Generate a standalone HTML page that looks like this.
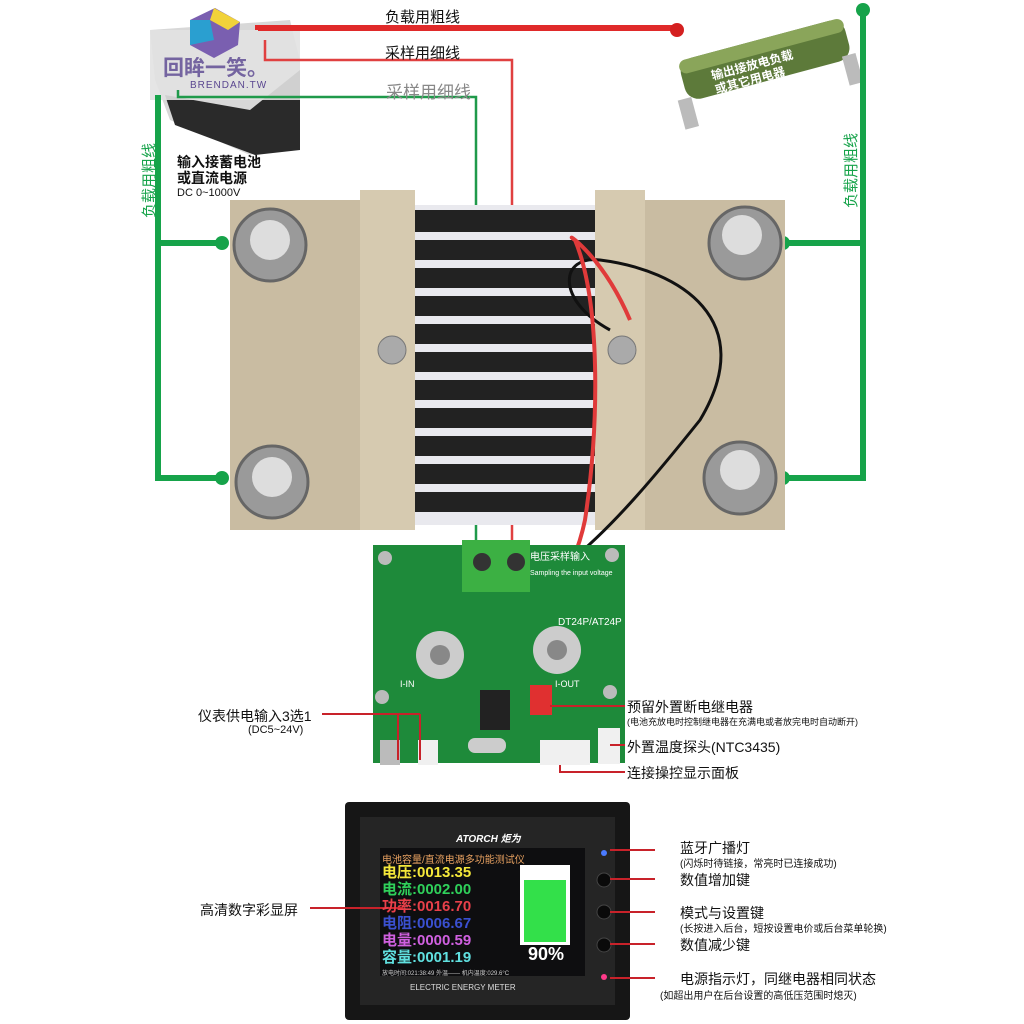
<!DOCTYPE html>
<html><head><meta charset="utf-8"><style>
body{margin:0;width:1024px;height:1024px;background:#fff;position:relative;overflow:hidden;font-family:"Liberation Sans","Noto Sans CJK SC",sans-serif}
.t{position:absolute;white-space:nowrap;color:#111}
.v{writing-mode:vertical-rl;text-orientation:sideways;transform:rotate(180deg)}
</style></head><body>
<svg width="1024" height="1024" style="position:absolute;left:0;top:0">
<g>
<polygon points="150,30 290,20 300,60 300,140 250,155 170,120 155,80" fill="#d8d8d8"/>
<polygon points="165,95 250,110 300,70 300,150 255,155 175,125" fill="#2a2a2a"/>
<rect x="150" y="30" width="150" height="70" fill="#e2e2e2" opacity=".9"/>
<polygon points="190,20 215,8 240,22 238,45 214,58 190,45" fill="#7a5fb0"/>
<polygon points="214,8 240,22 228,30 210,20" fill="#f1d23a"/>
<polygon points="190,20 210,20 214,40 190,45" fill="#2a9fd0"/>
</g>
<g transform="rotate(-15 760 60)">
<rect x="680" y="40" width="170" height="42" rx="14" fill="#5d7a3a"/>
<rect x="680" y="40" width="170" height="14" rx="7" fill="#8aa55a"/>
<rect x="670" y="78" width="14" height="30" fill="#bbb"/><rect x="840" y="78" width="14" height="30" fill="#bbb"/>
</g>
<polyline points="258,30 258,28 677,28" fill="none" stroke="#e02a2a" stroke-width="6"/>
<circle cx="677" cy="30" r="7" fill="#d42020"/>
<polyline points="265,40 265,60 512,60 512,560" fill="none" stroke="#e04040" stroke-width="2.5"/>
<polyline points="178,90 178,97 476,97 476,560" fill="none" stroke="#1f9a4a" stroke-width="2.5"/>
<polyline points="158,95 158,478 222,478" fill="none" stroke="#16a34a" stroke-width="6"/>
<line x1="158" y1="243" x2="222" y2="243" stroke="#16a34a" stroke-width="6"/>
<polyline points="863,10 863,478 783,478" fill="none" stroke="#16a34a" stroke-width="6"/>
<line x1="783" y1="243" x2="863" y2="243" stroke="#16a34a" stroke-width="6"/>
<g fill="#16a34a"><circle cx="863" cy="10" r="7"/><circle cx="222" cy="243" r="7"/><circle cx="222" cy="478" r="7"/><circle cx="783" cy="243" r="7"/><circle cx="783" cy="478" r="7"/></g>
<rect x="230" y="200" width="180" height="330" fill="#c9bca2"/>
<rect x="600" y="200" width="185" height="330" fill="#c9bca2"/>
<rect x="360" y="190" width="55" height="340" fill="#d6cab0"/>
<rect x="595" y="190" width="50" height="340" fill="#d6cab0"/>
<rect x="415" y="205" width="180" height="320" fill="#e9e9ee"/>
<g fill="#222">
<rect x="415" y="210" width="180" height="22"/><rect x="415" y="240" width="180" height="20"/><rect x="415" y="268" width="180" height="20"/><rect x="415" y="296" width="180" height="20"/><rect x="415" y="324" width="180" height="20"/><rect x="415" y="352" width="180" height="20"/><rect x="415" y="380" width="180" height="20"/><rect x="415" y="408" width="180" height="20"/><rect x="415" y="436" width="180" height="20"/><rect x="415" y="464" width="180" height="20"/><rect x="415" y="492" width="180" height="20"/>
</g>
<g fill="#9a9a9a" stroke="#666" stroke-width="3">
<circle cx="270" cy="245" r="36"/><circle cx="745" cy="243" r="36"/><circle cx="272" cy="482" r="36"/><circle cx="740" cy="478" r="36"/></g>
<g fill="#ddd"><circle cx="270" cy="240" r="20"/><circle cx="742" cy="235" r="20"/><circle cx="272" cy="477" r="20"/><circle cx="740" cy="470" r="20"/></g>
<circle cx="392" cy="350" r="14" fill="#aaa" stroke="#777"/><circle cx="622" cy="350" r="14" fill="#aaa" stroke="#777"/>
<path d="M440,590 C520,640 620,520 700,420 C760,320 680,270 600,260 C560,255 555,300 610,330" fill="none" stroke="#111" stroke-width="3"/>
<path d="M425,575 C450,680 560,640 585,520 C600,420 600,300 575,240 C560,230 600,250 630,320" fill="none" stroke="#e03a3a" stroke-width="4"/>
<rect x="373" y="545" width="252" height="218" fill="#1e8a3a"/>
<rect x="462" y="540" width="68" height="52" fill="#3cb043"/>
<circle cx="482" cy="562" r="9" fill="#333"/><circle cx="516" cy="562" r="9" fill="#333"/>
<circle cx="440" cy="655" r="24" fill="#ccc"/><circle cx="440" cy="655" r="10" fill="#888"/>
<circle cx="557" cy="650" r="24" fill="#ccc"/><circle cx="557" cy="650" r="10" fill="#888"/>
<rect x="480" y="690" width="30" height="40" fill="#222"/>
<rect x="530" y="685" width="22" height="30" fill="#e03030"/>
<rect x="540" y="740" width="50" height="25" fill="#f0f0f0"/>
<rect x="598" y="728" width="22" height="36" fill="#f0f0f0"/>
<rect x="418" y="740" width="20" height="25" fill="#f0f0f0"/>
<rect x="380" y="740" width="20" height="25" fill="#bbb"/>
<rect x="468" y="738" width="38" height="15" rx="7" fill="#ccc"/>
<g fill="#bbb"><circle cx="385" cy="558" r="7"/><circle cx="612" cy="555" r="7"/><circle cx="382" cy="697" r="7"/><circle cx="610" cy="692" r="7"/></g>
<g stroke="#c8222a" stroke-width="2" fill="none">
<line x1="322" y1="714" x2="420" y2="714"/><polyline points="398,714 398,760"/><polyline points="420,714 420,760"/>
<line x1="550" y1="706" x2="625" y2="706"/>
<line x1="610" y1="745" x2="625" y2="745"/>
<polyline points="560,765 560,772 625,772"/>
</g>
<rect x="345" y="802" width="285" height="218" rx="4" fill="#161616"/>
<rect x="360" y="817" width="255" height="188" fill="#252525"/>
<rect x="380" y="848" width="205" height="128" fill="#0e0e10"/>
<rect x="520" y="865" width="50" height="80" fill="#fff"/>
<rect x="524" y="880" width="42" height="62" fill="#33e04a"/>
<circle cx="604" cy="853" r="3" fill="#4a7bff"/>
<circle cx="604" cy="880" r="7" fill="#0a0a0a" stroke="#444"/>
<circle cx="604" cy="912" r="7" fill="#0a0a0a" stroke="#444"/>
<circle cx="604" cy="945" r="7" fill="#0a0a0a" stroke="#444"/>
<circle cx="604" cy="977" r="3" fill="#ff3a8a"/>
<g stroke="#c8222a" stroke-width="2">
<line x1="310" y1="908" x2="403" y2="908"/>
<line x1="610" y1="850" x2="655" y2="850"/>
<line x1="610" y1="879" x2="655" y2="879"/>
<line x1="610" y1="912" x2="655" y2="912"/>
<line x1="610" y1="944" x2="655" y2="944"/>
<line x1="610" y1="978" x2="655" y2="978"/>
</g>
</svg>
<div class="t" style="left:385px;top:6px;font-size:15px">负载用粗线</div>
<div class="t" style="left:385px;top:42px;font-size:15px">采样用细线</div>
<div class="t" style="left:386px;top:78px;font-size:17px;color:#888">采样用细线</div>
<div class="t" style="left:163px;top:52px;font-size:21px;font-weight:bold;color:#5a4690;opacity:.8">回眸一笑。</div>
<div class="t" style="left:190px;top:80px;font-size:10px;color:#5a4690;letter-spacing:1px">BRENDAN.TW</div>
<div class="t" style="left:177px;top:154px;font-size:14px;font-weight:bold;line-height:16px">输入接蓄电池<br>或直流电源</div>
<div class="t" style="left:177px;top:187px;font-size:11px">DC 0~1000V</div>
<div class="t v" style="left:138px;top:143px;font-size:15px;color:#16a34a">负载用粗线</div>
<div class="t v" style="left:840px;top:133px;font-size:15px;color:#16a34a">负载用粗线</div>
<div class="t" style="left:712px;top:58px;font-size:12px;font-weight:bold;color:#fff;transform:rotate(-15deg);line-height:14px">输出接放电负载<br>或其它用电器</div>
<div class="t" style="left:530px;top:548px;font-size:10px;color:#fff">电压采样输入</div>
<div class="t" style="left:530px;top:570px;font-size:7px;color:#fff">Sampling the input voltage</div>
<div class="t" style="left:558px;top:617px;font-size:10px;color:#fff">DT24P/AT24P</div>
<div class="t" style="left:400px;top:679px;font-size:9px;color:#fff">I-IN</div>
<div class="t" style="left:555px;top:679px;font-size:9px;color:#fff">I-OUT</div>
<div class="t" style="left:198px;top:706px;font-size:14px">仪表供电输入3选1</div>
<div class="t" style="left:248px;top:724px;font-size:11px">(DC5~24V)</div>
<div class="t" style="left:627px;top:697px;font-size:14px">预留外置断电继电器</div>
<div class="t" style="left:627px;top:715px;font-size:9px">(电池充放电时控制继电器在充满电或者放完电时自动断开)</div>
<div class="t" style="left:627px;top:737px;font-size:14px">外置温度探头(NTC3435)</div>
<div class="t" style="left:627px;top:763px;font-size:14px">连接操控显示面板</div>
<div class="t" style="left:456px;top:830px;font-size:10px;font-weight:bold;font-style:italic;color:#fff">ATORCH 炬为</div>
<div class="t" style="left:382px;top:851px;font-size:10px;color:#e6a060">电池容量/直流电源多功能测试仪</div>
<div class="t" style="left:382px;top:864px;font-size:15px;font-weight:bold;line-height:17px"><span style="color:#f5e83a">电压:0013.35</span><br><span style="color:#2fd05a">电流:0002.00</span><br><span style="color:#e8404a">功率:0016.70</span><br><span style="color:#3a50d0">电阻:0006.67</span><br><span style="color:#d060e0">电量:0000.59</span><br><span style="color:#60e0e0">容量:0001.19</span></div>
<div class="t" style="left:528px;top:944px;font-size:18px;font-weight:bold;color:#fff">90%</div>
<div class="t" style="left:382px;top:968px;font-size:6px;color:#ccc">放电时间:021:38:49 外温—— 机内温度:029.6°C</div>
<div class="t" style="left:410px;top:983px;font-size:8px;color:#ddd">ELECTRIC ENERGY METER</div>
<div class="t" style="left:200px;top:900px;font-size:14px">高清数字彩显屏</div>
<div class="t" style="left:680px;top:838px;font-size:14px">蓝牙广播灯</div>
<div class="t" style="left:680px;top:855px;font-size:10px">(闪烁时待链接，常亮时已连接成功)</div>
<div class="t" style="left:680px;top:870px;font-size:14px">数值增加键</div>
<div class="t" style="left:680px;top:903px;font-size:14px">模式与设置键</div>
<div class="t" style="left:680px;top:920px;font-size:10px">(长按进入后台，短按设置电价或后台菜单轮换)</div>
<div class="t" style="left:680px;top:935px;font-size:14px">数值减少键</div>
<div class="t" style="left:680px;top:969px;font-size:14px">电源指示灯，同继电器相同状态</div>
<div class="t" style="left:660px;top:987px;font-size:10px">(如超出用户在后台设置的高低压范围时熄灭)</div>
</body></html>
